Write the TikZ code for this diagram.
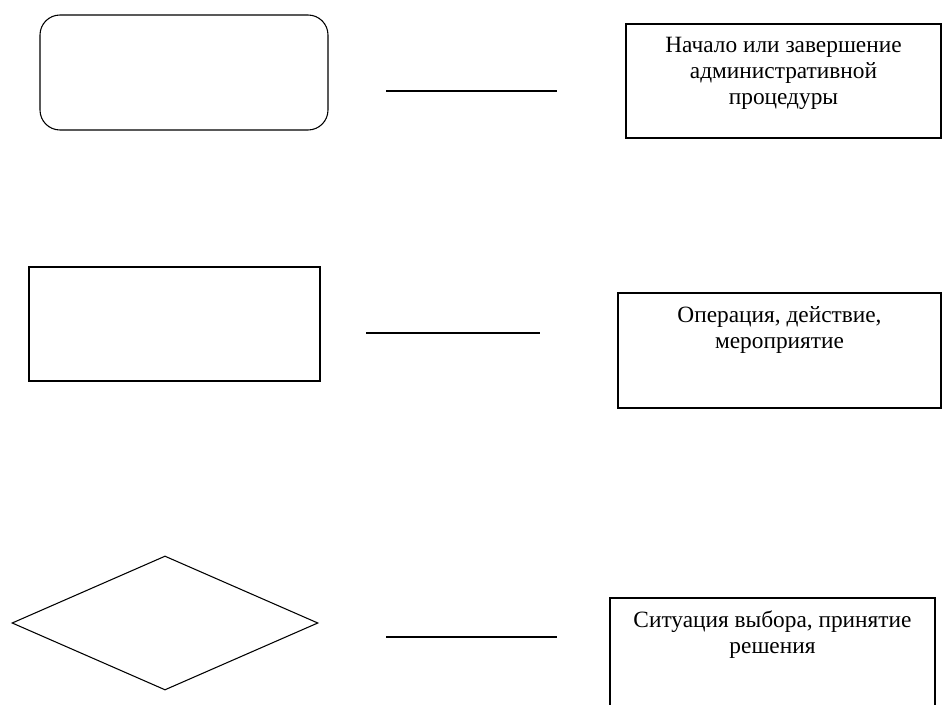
\documentclass[tikz,border=0pt]{standalone}
\usepackage{fontspec}
\setmainfont{Liberation Serif}
\usetikzlibrary{positioning,shapes.geometric}

\begin{document}
\begin{tikzpicture}[
  x=0.75pt, y=-0.75pt,
  symbol/.style={
    draw=black,
    line width=0.8pt,
    inner sep=0pt,
  },
  startend/.style={
    symbol,
    shape=rectangle,
    rounded corners=15pt,
    minimum width=216pt,
    minimum height=86.25pt,
  },
  oper/.style={
    symbol,
    shape=rectangle,
    minimum width=218.25pt,
    minimum height=85.5pt,
  },
  choice/.style={
    symbol,
    shape=diamond,
    minimum width=229.5pt,
    minimum height=100.5pt,
  },
  descbox/.style={
    draw=black,
    line width=0.8pt,
    shape=rectangle,
    minimum height=85.5pt,
  },
  desctext/.style={
    align=center,
    inner sep=0pt,
    font=\fontsize{17.5}{19.5}\selectfont,
  },
  line/.style={
    line width=0.8pt,
    draw=black,
  }]
  \clip (0,0) rectangle (943,705);

  % symbols
  \node[startend] (SE) at (184,72.5) {};
  \node[oper] (OP) at (174.5,324) {};
  \node[choice] (CH) at (165,623) {};

  % description boxes
  \node[descbox, minimum width=236.25pt] (D1) at (783.5,81) {};
  \node[descbox, minimum width=242.25pt, minimum height=86.25pt] (D2) at (779.5,350.5) {};
  \node[descbox, minimum width=243.75pt] (D3) at (772.5,655) {};

  \node[desctext, below=10pt of D1.north] (T1)
    {Начало или завершение\\административной\\процедуры};
  \node[desctext, below=10pt of D2.north] (T2)
    {Операция, действие,\\мероприятие};
  \node[desctext, below=10pt of D3.north] (T3)
    {Ситуация выбора, принятие\\решения};

  % dashes between symbol and meaning
  \coordinate (L1a) at (386,91);
  \coordinate (L1b) at (557,91);
  \coordinate (L2a) at (366,333);
  \coordinate (L2b) at (540,333);
  \coordinate (L3a) at (386,637);
  \coordinate (L3b) at (557,637);
  \draw[line] (L1a) -- (L1b);
  \draw[line] (L2a) -- (L2b);
  \draw[line] (L3a) -- (L3b);
\end{tikzpicture}
\end{document}
